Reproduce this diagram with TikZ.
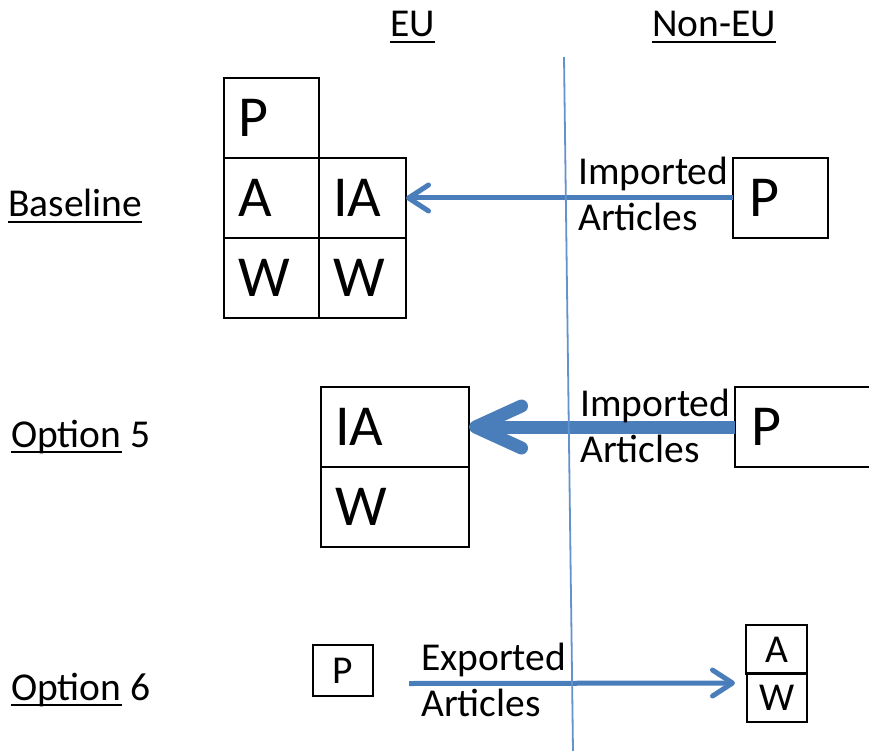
\documentclass[tikz,border=0pt]{standalone}
\usepackage{fontspec}
\setmainfont{Carlito}
\usepackage{xcolor}
\usepackage{tikz}
\usetikzlibrary{arrows.meta,calc}

\definecolor{arrowBlue}{RGB}{74,126,187}
\definecolor{divideBlue}{RGB}{100,146,204}

% underline in the way the labels show it
\newcommand{\ulText}[1]{\setbox0\hbox{#1}\rlap{\rule[-6pt]{\wd0}{1.8pt}}\box0\relax}

\tikzstyle{tsLabel} = [ 
    text=black, 
    font=\fontsize{39.5}{46}\selectfont,
    inner sep=0pt,
    anchor=base west
]
\tikzstyle{tsCell} = [ 
    rectangle,
    draw=black,
    line width=1.6pt,
    font=\fontsize{58}{62}\selectfont,
    inner ysep=0pt,
    inner xsep=14pt,
    outer sep=0pt,
    align=left,
    text depth=0pt,
    anchor=north west
]
\tikzstyle{tsSmallCell} = [ 
    tsCell,
    font=\fontsize{39.5}{46}\selectfont,
    inner sep=0pt,
    align=center
]
\tikzstyle{tsArrow} = [ 
    arrowBlue,
    line width=5pt,
    -{Straight Barb[round, length=20pt, width=26pt]}
]

\begin{document}
\begin{tikzpicture}[x=1pt, y=-1pt]
        \useasboundingbox (0,0) rectangle (869,751);

        % headings
        \node[tsLabel] (euHead) at (390,37) {\ulText{EU}};
        \node[tsLabel] (nonEuHead) at (652,37) {\ulText{Non-EU}};

        \node[tsLabel] (baseLbl) at (8,217) {\ulText{Baseline}};
        \node[tsLabel] (optFiveLbl) at (11,447) {\ulText{Option} 5};
        \node[tsLabel] (optSixLbl) at (11,700) {\ulText{Option} 6};

        % baseline
        \node[tsCell, minimum width=95pt, minimum height=80pt, text width=67pt] (pBase) at (224,78) {P};
        \node[tsCell, minimum width=95pt, minimum height=80pt, text width=67pt] (aBase) at (pBase.south west) {A};
        \node[tsCell, minimum width=95pt, minimum height=80pt, text width=67pt] (wBase) at (aBase.south west) {W};
        \node[tsCell, minimum width=87pt, minimum height=80pt, text width=59pt] (iaBase) at (aBase.north east) {IA};
        \node[tsCell, minimum width=87pt, minimum height=80pt, text width=59pt] (wBaseR) at (iaBase.south west) {W};
        \node[tsCell, minimum width=95pt, minimum height=80pt, inner xsep=16pt, text width=63pt] (pNonBase) at (733,158) {P};

        \draw[tsArrow] (pNonBase.west) -- (iaBase.east);
        \node[tsLabel] (impBaseA) at (578,185) {Imported};
        \node[tsLabel] (impBaseB) at (578,231) {Articles};

        % option 5
        \node[tsCell, minimum width=148pt, minimum height=80pt, text width=120pt] (iaOpt) at (321,387) {IA};
        \node[tsCell, minimum width=148pt, minimum height=80pt, text width=120pt] (wOpt) at (iaOpt.south west) {W};
        \node[tsCell, minimum width=150pt, minimum height=80pt, inner xsep=16pt, text width=118pt] (pNonOpt) at (735,387) {P};

        \draw[tsArrow, line width=13pt, -{Straight Barb[round, length=46pt, width=42pt]}] (pNonOpt.west) -- (iaOpt.east);
        \node[tsLabel] (impOptA) at (580,416) {Imported};
        \node[tsLabel] (impOptB) at (580,462) {Articles};

        % option 6
        \node[tsSmallCell, minimum width=60pt, minimum height=51pt] (pSix) at (313,645) {P};
        \node[tsSmallCell, minimum width=61pt, minimum height=49pt] (aSix) at (746,625) {A};
        \node[tsSmallCell, minimum width=60pt, minimum height=49pt] (wSix) at (747,673) {W};

        \draw[tsArrow] ([xshift=36pt,yshift=-13pt]pSix.east) -- ([xshift=-12pt,yshift=-10pt]wSix.north west);
        \node[tsLabel] (expSixA) at (421,670) {Exported};
        \node[tsLabel] (expSixB) at (421,716) {Articles};

        % EU / Non-EU border
        \coordinate (divTop) at (564,57);
        \coordinate (divBottom) at (573,751);
        \draw[divideBlue, line width=1.8pt] (divTop) -- (divBottom);

\end{tikzpicture}
\end{document}
